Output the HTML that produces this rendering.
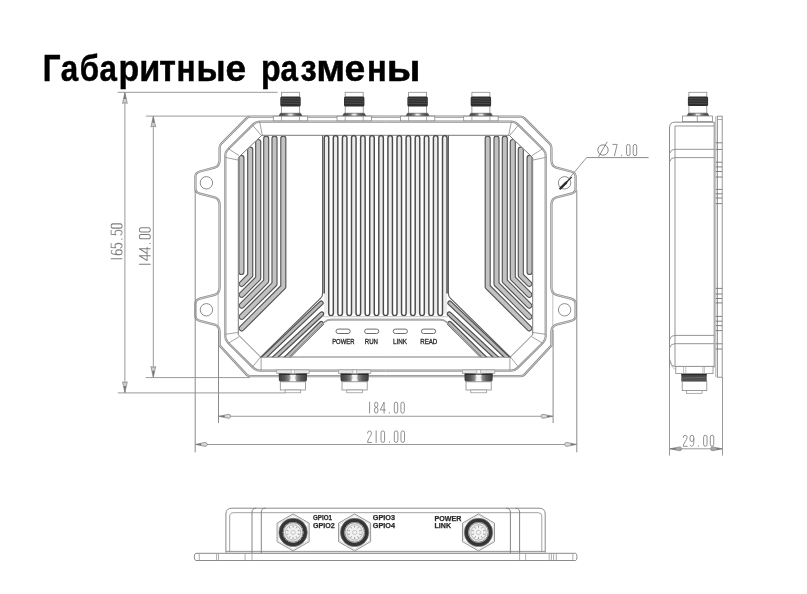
<!DOCTYPE html>
<html><head><meta charset="utf-8"><title>Габаритные размены</title>
<style>
html,body{margin:0;padding:0;background:#fff;}
body{width:807px;height:594px;overflow:hidden;position:relative;}
svg{position:absolute;left:0;top:0;will-change:transform;}
</style></head>
<body>
<svg width="807" height="594" viewBox="0 0 807 594">
<defs><linearGradient id="nutg" x1="0" y1="0" x2="1" y2="0"><stop offset="0" stop-color="#3c3c3c"/><stop offset="0.22" stop-color="#5a5a5a"/><stop offset="0.36" stop-color="#8a8a8a"/><stop offset="0.44" stop-color="#e8e8e8"/><stop offset="0.56" stop-color="#e8e8e8"/><stop offset="0.64" stop-color="#8a8a8a"/><stop offset="0.78" stop-color="#5a5a5a"/><stop offset="1" stop-color="#3c3c3c"/></linearGradient></defs>
<g font-family="Liberation Sans, sans-serif" font-weight="bold" font-size="36.5" fill="#000" stroke="#000" stroke-width="0.45">
<text transform="translate(42.66,81) scale(0.860,1)">Г</text>
<text transform="translate(60.86,81) scale(0.860,1)">а</text>
<text transform="translate(79.71,81) scale(0.860,1)">б</text>
<text transform="translate(99.56,81) scale(0.860,1)">а</text>
<text transform="translate(118.56,81) scale(0.930,1)">р</text>
<text transform="translate(139.33,81) scale(0.938,1)">и</text>
<text transform="translate(159.14,81) scale(0.929,1)">т</text>
<text transform="translate(176.39,81) scale(0.867,1)">н</text>
<text transform="translate(196.42,81) scale(0.932,1)">ы</text>
<text transform="translate(225.55,81) scale(1.016,1)">е</text>
<text transform="translate(261.08,81) scale(0.881,1)">р</text>
<text transform="translate(280.56,81) scale(0.860,1)">а</text>
<text transform="translate(300.45,81) scale(0.895,1)">з</text>
<text transform="translate(316.27,81) scale(1.073,1)">м</text>
<text transform="translate(344.44,81) scale(1.021,1)">е</text>
<text transform="translate(366.91,81) scale(0.897,1)">н</text>
<text transform="translate(386.84,81) scale(1.082,1)">ы</text>
</g>
<g id="fl">
<path d="M385.5,116.6 L251,116.6 Q248.2,116.6 246.4,118.4 L221.2,143.8 Q219.6,145.4 219.6,148 L219.6,160 Q219.6,166.2 214.6,167.6 L199.8,171.5 Q195.4,172.7 195.4,176.8 L195.4,188.6 Q195.4,192.6 199.8,193.7 L214.6,197.4 Q219.6,198.8 219.6,205 L219.6,287.2 Q219.6,293.4 214.6,294.8 L199.8,298.7 Q195.4,299.9 195.4,304 L195.4,315.8 Q195.4,319.8 199.8,320.9 L214.6,324.6 Q219.6,326 219.6,332.2 L219.6,345.6 L246.6,374.6 Q248.2,376.2 251,376.2 L385.5,376.2" fill="none" stroke="#8c8c8c" stroke-width="2.3"/>
<path d="M385.5,116.6 L251,116.6 Q248.2,116.6 246.4,118.4 L221.2,143.8 Q219.6,145.4 219.6,148 L219.6,160 Q219.6,166.2 214.6,167.6 L199.8,171.5 Q195.4,172.7 195.4,176.8 L195.4,188.6 Q195.4,192.6 199.8,193.7 L214.6,197.4 Q219.6,198.8 219.6,205 L219.6,287.2 Q219.6,293.4 214.6,294.8 L199.8,298.7 Q195.4,299.9 195.4,304 L195.4,315.8 Q195.4,319.8 199.8,320.9 L214.6,324.6 Q219.6,326 219.6,332.2 L219.6,345.6 L246.6,374.6 Q248.2,376.2 251,376.2 L385.5,376.2" fill="none" stroke="#e6e6e6" stroke-width="0.7"/>
<line x1="218.2" y1="290" x2="218.2" y2="329" stroke="#b0b0b0" stroke-width="0.8"/>
<circle cx="206.4" cy="182.8" r="6.2" fill="none" stroke="#8a8a8a" stroke-width="1"/>
<circle cx="206.4" cy="309.8" r="6.2" fill="none" stroke="#8a8a8a" stroke-width="1"/>
<path d="M385.5,121.6 L260,121.6 Q256,121.6 253.2,124.4 L228,149.2 Q225.3,151.9 225.3,155.5 L225.3,336.5 Q225.3,340 228,342.7 L253.4,367.9 Q256.2,370.7 260,370.7 L385.5,370.7" fill="none" stroke="#8e8e8e" stroke-width="2.2"/>
<path d="M385.5,121.6 L260,121.6 Q256,121.6 253.2,124.4 L228,149.2 Q225.3,151.9 225.3,155.5 L225.3,336.5 Q225.3,340 228,342.7 L253.4,367.9 Q256.2,370.7 260,370.7 L385.5,370.7" fill="none" stroke="#e8e8e8" stroke-width="0.6"/>
<path d="M385.5,135.3 L261.8,135.3 L238.3,157.6 L238.3,334.8 L260.6,357 L385.5,357" fill="none" stroke="#7a7a7a" stroke-width="1"/>
<line x1="259.6" y1="121.4" x2="262.3" y2="135.3" stroke="#8a8a8a" stroke-width="0.8"/>
<line x1="252.8" y1="125.4" x2="261.4" y2="135.6" stroke="#8a8a8a" stroke-width="0.8"/>
<line x1="228.2" y1="148.6" x2="239" y2="155.6" stroke="#8a8a8a" stroke-width="0.8"/>
<line x1="225.3" y1="157.4" x2="238.3" y2="160.1" stroke="#8a8a8a" stroke-width="0.8"/>
<line x1="225.3" y1="334.3" x2="238.3" y2="332.4" stroke="#8a8a8a" stroke-width="0.8"/>
<line x1="228.7" y1="343" x2="239.4" y2="336.6" stroke="#8a8a8a" stroke-width="0.8"/>
<line x1="252.8" y1="366.7" x2="260.4" y2="357.2" stroke="#8a8a8a" stroke-width="0.8"/>
<line x1="261.1" y1="357.4" x2="261.1" y2="370.4" stroke="#8a8a8a" stroke-width="0.8"/>
<clipPath id="clipL"><path d="M261.8,135.8 L238.8,157.6 L238.8,334.5 L262,357 L330,357 L330,135.8 Z"/></clipPath>
<g clip-path="url(#clipL)" fill="none" stroke-linejoin="round" stroke-linecap="round">
<path d="M241.4,157.96 L241.4,272" stroke="#555" stroke-width="6.2"/>
<path d="M241.4,157.96 L241.4,272" stroke="#c2c2c2" stroke-width="3.9"/>
<path d="M250.2,149.61 L250.2,275.4 L241.7,283.9" stroke="#555" stroke-width="6.2"/>
<path d="M250.2,149.61 L250.2,275.4 L241.7,283.9" stroke="#c2c2c2" stroke-width="3.9"/>
<path d="M258.2,142.02 L258.2,278.25 L241.7,294.75" stroke="#555" stroke-width="6.2"/>
<path d="M258.2,142.02 L258.2,278.25 L241.7,294.75" stroke="#c2c2c2" stroke-width="3.9"/>
<path d="M266.2,138.7 L266.2,281.1 L241.7,305.6" stroke="#555" stroke-width="6.2"/>
<path d="M266.2,138.7 L266.2,281.1 L241.7,305.6" stroke="#c2c2c2" stroke-width="3.9"/>
<path d="M274.5,138.7 L274.5,283.95 L241.7,316.75" stroke="#555" stroke-width="6.2"/>
<path d="M274.5,138.7 L274.5,283.95 L241.7,316.75" stroke="#c2c2c2" stroke-width="3.9"/>
<path d="M283.3,138.7 L283.3,286.8 L241.7,328.4" stroke="#555" stroke-width="6.2"/>
<path d="M283.3,138.7 L283.3,286.8 L241.7,328.4" stroke="#c2c2c2" stroke-width="3.9"/>
</g>
<clipPath id="clipLL"><path d="M238,357.3 L340,357.3 L340,280 L238,280 Z"/></clipPath>
<g fill="none" clip-path="url(#clipLL)" stroke-linecap="round">
<path d="M260.9,360.3 L321.2,303" stroke="#4e4e4e" stroke-width="5.0"/>
<path d="M260.9,360.3 L321.2,303" stroke="#bababa" stroke-width="2.6"/>
<path d="M271.9,360.3 L321.8,313.8" stroke="#4e4e4e" stroke-width="5.0"/>
<path d="M271.9,360.3 L321.8,313.8" stroke="#bababa" stroke-width="2.6"/>
<path d="M283.9,360.3 L321.4,323.4" stroke="#4e4e4e" stroke-width="5.0"/>
<path d="M283.9,360.3 L321.4,323.4" stroke="#bababa" stroke-width="2.6"/>
</g>
<path d="M322.6,135.5 L322.6,293.5 Q322.6,296.2 320.7,298.1 L260.4,357.3" fill="none" stroke="#5a5a5a" stroke-width="1.1"/>
<path d="M385.5,319.6 L331,319.6 Q327,319.6 324.6,322 L290.3,357.3" fill="none" stroke="#7a7a7a" stroke-width="1.6"/>
<path d="M385.5,319.6 L331,319.6 Q327,319.6 324.6,322 L290.3,357.3" fill="none" stroke="#eee" stroke-width="0.5"/>
</g>
<g transform="translate(771,0) scale(-1,1)">
<path d="M385.5,116.6 L251,116.6 Q248.2,116.6 246.4,118.4 L221.2,143.8 Q219.6,145.4 219.6,148 L219.6,160 Q219.6,166.2 214.6,167.6 L199.8,171.5 Q195.4,172.7 195.4,176.8 L195.4,188.6 Q195.4,192.6 199.8,193.7 L214.6,197.4 Q219.6,198.8 219.6,205 L219.6,287.2 Q219.6,293.4 214.6,294.8 L199.8,298.7 Q195.4,299.9 195.4,304 L195.4,315.8 Q195.4,319.8 199.8,320.9 L214.6,324.6 Q219.6,326 219.6,332.2 L219.6,345.6 L246.6,374.6 Q248.2,376.2 251,376.2 L385.5,376.2" fill="none" stroke="#8c8c8c" stroke-width="2.3"/>
<path d="M385.5,116.6 L251,116.6 Q248.2,116.6 246.4,118.4 L221.2,143.8 Q219.6,145.4 219.6,148 L219.6,160 Q219.6,166.2 214.6,167.6 L199.8,171.5 Q195.4,172.7 195.4,176.8 L195.4,188.6 Q195.4,192.6 199.8,193.7 L214.6,197.4 Q219.6,198.8 219.6,205 L219.6,287.2 Q219.6,293.4 214.6,294.8 L199.8,298.7 Q195.4,299.9 195.4,304 L195.4,315.8 Q195.4,319.8 199.8,320.9 L214.6,324.6 Q219.6,326 219.6,332.2 L219.6,345.6 L246.6,374.6 Q248.2,376.2 251,376.2 L385.5,376.2" fill="none" stroke="#e6e6e6" stroke-width="0.7"/>
<line x1="218.2" y1="290" x2="218.2" y2="329" stroke="#b0b0b0" stroke-width="0.8"/>
<circle cx="206.4" cy="182.8" r="6.2" fill="none" stroke="#8a8a8a" stroke-width="1"/>
<circle cx="206.4" cy="309.8" r="6.2" fill="none" stroke="#8a8a8a" stroke-width="1"/>
<path d="M385.5,121.6 L260,121.6 Q256,121.6 253.2,124.4 L228,149.2 Q225.3,151.9 225.3,155.5 L225.3,336.5 Q225.3,340 228,342.7 L253.4,367.9 Q256.2,370.7 260,370.7 L385.5,370.7" fill="none" stroke="#8e8e8e" stroke-width="2.2"/>
<path d="M385.5,121.6 L260,121.6 Q256,121.6 253.2,124.4 L228,149.2 Q225.3,151.9 225.3,155.5 L225.3,336.5 Q225.3,340 228,342.7 L253.4,367.9 Q256.2,370.7 260,370.7 L385.5,370.7" fill="none" stroke="#e8e8e8" stroke-width="0.6"/>
<path d="M385.5,135.3 L261.8,135.3 L238.3,157.6 L238.3,334.8 L260.6,357 L385.5,357" fill="none" stroke="#7a7a7a" stroke-width="1"/>
<line x1="259.6" y1="121.4" x2="262.3" y2="135.3" stroke="#8a8a8a" stroke-width="0.8"/>
<line x1="252.8" y1="125.4" x2="261.4" y2="135.6" stroke="#8a8a8a" stroke-width="0.8"/>
<line x1="228.2" y1="148.6" x2="239" y2="155.6" stroke="#8a8a8a" stroke-width="0.8"/>
<line x1="225.3" y1="157.4" x2="238.3" y2="160.1" stroke="#8a8a8a" stroke-width="0.8"/>
<line x1="225.3" y1="334.3" x2="238.3" y2="332.4" stroke="#8a8a8a" stroke-width="0.8"/>
<line x1="228.7" y1="343" x2="239.4" y2="336.6" stroke="#8a8a8a" stroke-width="0.8"/>
<line x1="252.8" y1="366.7" x2="260.4" y2="357.2" stroke="#8a8a8a" stroke-width="0.8"/>
<line x1="261.1" y1="357.4" x2="261.1" y2="370.4" stroke="#8a8a8a" stroke-width="0.8"/>
<clipPath id="clipR"><path d="M261.8,135.8 L238.8,157.6 L238.8,334.5 L262,357 L330,357 L330,135.8 Z"/></clipPath>
<g clip-path="url(#clipR)" fill="none" stroke-linejoin="round" stroke-linecap="round">
<path d="M241.4,157.96 L241.4,272" stroke="#555" stroke-width="6.2"/>
<path d="M241.4,157.96 L241.4,272" stroke="#c2c2c2" stroke-width="3.9"/>
<path d="M250.2,149.61 L250.2,275.4 L241.7,283.9" stroke="#555" stroke-width="6.2"/>
<path d="M250.2,149.61 L250.2,275.4 L241.7,283.9" stroke="#c2c2c2" stroke-width="3.9"/>
<path d="M258.2,142.02 L258.2,278.25 L241.7,294.75" stroke="#555" stroke-width="6.2"/>
<path d="M258.2,142.02 L258.2,278.25 L241.7,294.75" stroke="#c2c2c2" stroke-width="3.9"/>
<path d="M266.2,138.7 L266.2,281.1 L241.7,305.6" stroke="#555" stroke-width="6.2"/>
<path d="M266.2,138.7 L266.2,281.1 L241.7,305.6" stroke="#c2c2c2" stroke-width="3.9"/>
<path d="M274.5,138.7 L274.5,283.95 L241.7,316.75" stroke="#555" stroke-width="6.2"/>
<path d="M274.5,138.7 L274.5,283.95 L241.7,316.75" stroke="#c2c2c2" stroke-width="3.9"/>
<path d="M283.3,138.7 L283.3,286.8 L241.7,328.4" stroke="#555" stroke-width="6.2"/>
<path d="M283.3,138.7 L283.3,286.8 L241.7,328.4" stroke="#c2c2c2" stroke-width="3.9"/>
</g>
<clipPath id="clipRR"><path d="M238,357.3 L340,357.3 L340,280 L238,280 Z"/></clipPath>
<g fill="none" clip-path="url(#clipRR)" stroke-linecap="round">
<path d="M260.9,360.3 L321.2,303" stroke="#4e4e4e" stroke-width="5.0"/>
<path d="M260.9,360.3 L321.2,303" stroke="#bababa" stroke-width="2.6"/>
<path d="M271.9,360.3 L321.8,313.8" stroke="#4e4e4e" stroke-width="5.0"/>
<path d="M271.9,360.3 L321.8,313.8" stroke="#bababa" stroke-width="2.6"/>
<path d="M283.9,360.3 L321.4,323.4" stroke="#4e4e4e" stroke-width="5.0"/>
<path d="M283.9,360.3 L321.4,323.4" stroke="#bababa" stroke-width="2.6"/>
</g>
<path d="M322.6,135.5 L322.6,293.5 Q322.6,296.2 320.7,298.1 L260.4,357.3" fill="none" stroke="#5a5a5a" stroke-width="1.1"/>
<path d="M385.5,319.6 L331,319.6 Q327,319.6 324.6,322 L290.3,357.3" fill="none" stroke="#7a7a7a" stroke-width="1.6"/>
<path d="M385.5,319.6 L331,319.6 Q327,319.6 324.6,322 L290.3,357.3" fill="none" stroke="#eee" stroke-width="0.5"/>
</g>
<rect x="324.2" y="136.3" width="4.55" height="177.3" fill="#ececec"/>
<rect x="333.3" y="136.3" width="4.55" height="177.3" fill="#ececec"/>
<rect x="342.4" y="136.3" width="4.55" height="177.3" fill="#ececec"/>
<rect x="351.5" y="136.3" width="4.55" height="177.3" fill="#ececec"/>
<rect x="360.6" y="136.3" width="4.55" height="177.3" fill="#ececec"/>
<rect x="369.7" y="136.3" width="4.55" height="177.3" fill="#ececec"/>
<rect x="378.8" y="136.3" width="4.55" height="177.3" fill="#ececec"/>
<rect x="387.9" y="136.3" width="4.55" height="177.3" fill="#ececec"/>
<rect x="397" y="136.3" width="4.55" height="177.3" fill="#ececec"/>
<rect x="406.1" y="136.3" width="4.55" height="177.3" fill="#ececec"/>
<rect x="415.2" y="136.3" width="4.55" height="177.3" fill="#ececec"/>
<rect x="424.3" y="136.3" width="4.55" height="177.3" fill="#ececec"/>
<rect x="433.4" y="136.3" width="4.55" height="177.3" fill="#ececec"/>
<rect x="442.5" y="136.3" width="4.55" height="177.3" fill="#ececec"/>
<path d="M324.2,293.5 L324.2,137.88 A2.27,2.27 0 0 1 328.75,137.88 L328.75,313.33 A2.27,2.27 0 0 0 333.3,313.33 L333.3,137.88 A2.27,2.27 0 0 1 337.85,137.88 L337.85,313.33 A2.27,2.27 0 0 0 342.4,313.33 L342.4,137.88 A2.27,2.27 0 0 1 346.95,137.88 L346.95,313.33 A2.27,2.27 0 0 0 351.5,313.33 L351.5,137.88 A2.27,2.27 0 0 1 356.05,137.88 L356.05,313.33 A2.27,2.27 0 0 0 360.6,313.33 L360.6,137.88 A2.27,2.27 0 0 1 365.15,137.88 L365.15,313.33 A2.27,2.27 0 0 0 369.7,313.33 L369.7,137.88 A2.27,2.27 0 0 1 374.25,137.88 L374.25,313.33 A2.27,2.27 0 0 0 378.8,313.33 L378.8,137.88 A2.27,2.27 0 0 1 383.35,137.88 L383.35,313.33 A2.27,2.27 0 0 0 387.9,313.33 L387.9,137.88 A2.27,2.27 0 0 1 392.45,137.88 L392.45,313.33 A2.27,2.27 0 0 0 397,313.33 L397,137.88 A2.27,2.27 0 0 1 401.55,137.88 L401.55,313.33 A2.27,2.27 0 0 0 406.1,313.33 L406.1,137.88 A2.27,2.27 0 0 1 410.65,137.88 L410.65,313.33 A2.27,2.27 0 0 0 415.2,313.33 L415.2,137.88 A2.27,2.27 0 0 1 419.75,137.88 L419.75,313.33 A2.27,2.27 0 0 0 424.3,313.33 L424.3,137.88 A2.27,2.27 0 0 1 428.85,137.88 L428.85,313.33 A2.27,2.27 0 0 0 433.4,313.33 L433.4,137.88 A2.27,2.27 0 0 1 437.95,137.88 L437.95,313.33 A2.27,2.27 0 0 0 442.5,313.33 L442.5,137.88 A2.27,2.27 0 0 1 447.05,137.88 L447.05,293.5" fill="none" stroke="#4a4a4a" stroke-width="1.45"/>
<line x1="322.6" y1="316.7" x2="448.65" y2="316.7" stroke="#c8c8c8" stroke-width="1"/>
<rect x="336" y="329.1" width="14.2" height="4.4" rx="2.2" fill="none" stroke="#6a6a6a" stroke-width="1.0"/>
<rect x="364.6" y="329.1" width="14.2" height="4.4" rx="2.2" fill="none" stroke="#6a6a6a" stroke-width="1.0"/>
<rect x="393.2" y="329.1" width="14.2" height="4.4" rx="2.2" fill="none" stroke="#6a6a6a" stroke-width="1.0"/>
<rect x="421.4" y="329.1" width="14.2" height="4.4" rx="2.2" fill="none" stroke="#6a6a6a" stroke-width="1.0"/>
<g font-family="Liberation Sans, sans-serif" font-size="6.6" fill="#2a2a2a" stroke="#2a2a2a" stroke-width="0.3">
<text x="332.2" y="343.7" textLength="22.2" lengthAdjust="spacingAndGlyphs">POWER</text>
<text x="364.8" y="343.7" textLength="13.2" lengthAdjust="spacingAndGlyphs">RUN</text>
<text x="393" y="343.7" textLength="14" lengthAdjust="spacingAndGlyphs">LINK</text>
<text x="420.2" y="343.7" textLength="17.1" lengthAdjust="spacingAndGlyphs">READ</text>
</g>
<rect x="281.5" y="92.3" width="18" height="21.2" fill="#fff" stroke="#8a8a8a" stroke-width="0.8"/>
<rect x="280.3" y="96.6" width="20.4" height="10" rx="1.5" fill="#2e2e2e"/>
<line x1="280.9" y1="98.6" x2="300.1" y2="99.1" stroke="#6a6a6a" stroke-width="0.5"/>
<line x1="280.9" y1="100.9" x2="300.1" y2="101.4" stroke="#6a6a6a" stroke-width="0.5"/>
<line x1="280.9" y1="103.2" x2="300.1" y2="103.7" stroke="#6a6a6a" stroke-width="0.5"/>
<path d="M278.9,116 L280.3,113.2 L300.7,113.2 L302.1,116 Z" fill="url(#nutg)" stroke="#555" stroke-width="0.5"/>
<rect x="273.3" y="116.2" width="34.4" height="4.6" fill="#fff" stroke="#8a8a8a" stroke-width="0.8"/>
<line x1="281.5" y1="116.2" x2="281.5" y2="120.8" stroke="#8a8a8a" stroke-width="0.7"/>
<line x1="299.5" y1="116.2" x2="299.5" y2="120.8" stroke="#8a8a8a" stroke-width="0.7"/>
<rect x="345.2" y="92.3" width="18" height="21.2" fill="#fff" stroke="#8a8a8a" stroke-width="0.8"/>
<rect x="344" y="96.6" width="20.4" height="10" rx="1.5" fill="#2e2e2e"/>
<line x1="344.6" y1="98.6" x2="363.8" y2="99.1" stroke="#6a6a6a" stroke-width="0.5"/>
<line x1="344.6" y1="100.9" x2="363.8" y2="101.4" stroke="#6a6a6a" stroke-width="0.5"/>
<line x1="344.6" y1="103.2" x2="363.8" y2="103.7" stroke="#6a6a6a" stroke-width="0.5"/>
<path d="M342.6,116 L344,113.2 L364.4,113.2 L365.8,116 Z" fill="url(#nutg)" stroke="#555" stroke-width="0.5"/>
<rect x="337" y="116.2" width="34.4" height="4.6" fill="#fff" stroke="#8a8a8a" stroke-width="0.8"/>
<line x1="345.2" y1="116.2" x2="345.2" y2="120.8" stroke="#8a8a8a" stroke-width="0.7"/>
<line x1="363.2" y1="116.2" x2="363.2" y2="120.8" stroke="#8a8a8a" stroke-width="0.7"/>
<rect x="408.6" y="92.3" width="18" height="21.2" fill="#fff" stroke="#8a8a8a" stroke-width="0.8"/>
<rect x="407.4" y="96.6" width="20.4" height="10" rx="1.5" fill="#2e2e2e"/>
<line x1="408" y1="98.6" x2="427.2" y2="99.1" stroke="#6a6a6a" stroke-width="0.5"/>
<line x1="408" y1="100.9" x2="427.2" y2="101.4" stroke="#6a6a6a" stroke-width="0.5"/>
<line x1="408" y1="103.2" x2="427.2" y2="103.7" stroke="#6a6a6a" stroke-width="0.5"/>
<path d="M406,116 L407.4,113.2 L427.8,113.2 L429.2,116 Z" fill="url(#nutg)" stroke="#555" stroke-width="0.5"/>
<rect x="400.4" y="116.2" width="34.4" height="4.6" fill="#fff" stroke="#8a8a8a" stroke-width="0.8"/>
<line x1="408.6" y1="116.2" x2="408.6" y2="120.8" stroke="#8a8a8a" stroke-width="0.7"/>
<line x1="426.6" y1="116.2" x2="426.6" y2="120.8" stroke="#8a8a8a" stroke-width="0.7"/>
<rect x="471.9" y="92.3" width="18" height="21.2" fill="#fff" stroke="#8a8a8a" stroke-width="0.8"/>
<rect x="470.7" y="96.6" width="20.4" height="10" rx="1.5" fill="#2e2e2e"/>
<line x1="471.3" y1="98.6" x2="490.5" y2="99.1" stroke="#6a6a6a" stroke-width="0.5"/>
<line x1="471.3" y1="100.9" x2="490.5" y2="101.4" stroke="#6a6a6a" stroke-width="0.5"/>
<line x1="471.3" y1="103.2" x2="490.5" y2="103.7" stroke="#6a6a6a" stroke-width="0.5"/>
<path d="M469.3,116 L470.7,113.2 L491.1,113.2 L492.5,116 Z" fill="url(#nutg)" stroke="#555" stroke-width="0.5"/>
<rect x="463.7" y="116.2" width="34.4" height="4.6" fill="#fff" stroke="#8a8a8a" stroke-width="0.8"/>
<line x1="471.9" y1="116.2" x2="471.9" y2="120.8" stroke="#8a8a8a" stroke-width="0.7"/>
<line x1="489.9" y1="116.2" x2="489.9" y2="120.8" stroke="#8a8a8a" stroke-width="0.7"/>
<rect x="276.7" y="369.9" width="32.4" height="3.7" fill="#e6e6e6" stroke="#9a9a9a" stroke-width="0.7"/>
<rect x="291.2" y="369.9" width="3.4" height="3.7" fill="#fff" stroke="#9a9a9a" stroke-width="0.6"/>
<path d="M278.7,373.6 L307.1,373.6 L306.9,380 Q306.9,381.8 304.9,381.8 L280.9,381.8 Q278.9,381.8 278.9,380 Z" fill="url(#nutg)"/>
<path d="M279.3,374.3 L306.5,374.3" stroke="#222" stroke-width="1.1"/>
<path d="M289.9,374.8 L291.5,377.6 L289.7,381 L296.1,381 L294.3,377.6 L295.9,374.8 Z" fill="#f6f6f6"/>
<rect x="280.3" y="381.8" width="25.2" height="8.2" fill="#fff" stroke="#8a8a8a" stroke-width="0.8"/>
<rect x="285.1" y="390" width="15.6" height="2.8" fill="#fff" stroke="#8a8a8a" stroke-width="0.7"/>
<rect x="338.4" y="369.9" width="32.4" height="3.7" fill="#e6e6e6" stroke="#9a9a9a" stroke-width="0.7"/>
<rect x="352.9" y="369.9" width="3.4" height="3.7" fill="#fff" stroke="#9a9a9a" stroke-width="0.6"/>
<path d="M340.4,373.6 L368.8,373.6 L368.6,380 Q368.6,381.8 366.6,381.8 L342.6,381.8 Q340.6,381.8 340.6,380 Z" fill="url(#nutg)"/>
<path d="M341,374.3 L368.2,374.3" stroke="#222" stroke-width="1.1"/>
<path d="M351.6,374.8 L353.2,377.6 L351.4,381 L357.8,381 L356,377.6 L357.6,374.8 Z" fill="#f6f6f6"/>
<rect x="342" y="381.8" width="25.2" height="8.2" fill="#fff" stroke="#8a8a8a" stroke-width="0.8"/>
<rect x="346.8" y="390" width="15.6" height="2.8" fill="#fff" stroke="#8a8a8a" stroke-width="0.7"/>
<rect x="462.4" y="369.9" width="32.4" height="3.7" fill="#e6e6e6" stroke="#9a9a9a" stroke-width="0.7"/>
<rect x="476.9" y="369.9" width="3.4" height="3.7" fill="#fff" stroke="#9a9a9a" stroke-width="0.6"/>
<path d="M464.4,373.6 L492.8,373.6 L492.6,380 Q492.6,381.8 490.6,381.8 L466.6,381.8 Q464.6,381.8 464.6,380 Z" fill="url(#nutg)"/>
<path d="M465,374.3 L492.2,374.3" stroke="#222" stroke-width="1.1"/>
<path d="M475.6,374.8 L477.2,377.6 L475.4,381 L481.8,381 L480,377.6 L481.6,374.8 Z" fill="#f6f6f6"/>
<rect x="466" y="381.8" width="25.2" height="8.2" fill="#fff" stroke="#8a8a8a" stroke-width="0.8"/>
<rect x="470.8" y="390" width="15.6" height="2.8" fill="#fff" stroke="#8a8a8a" stroke-width="0.7"/>
<line x1="561.8" y1="187.2" x2="586.6" y2="157.6" stroke="#8a8a8a" stroke-width="0.9"/>
<line x1="586.6" y1="157.6" x2="648.6" y2="157.6" stroke="#8a8a8a" stroke-width="1"/>
<path d="M560.2,188.6 L571.4,177.4" stroke="#2a2a2a" stroke-width="1.3" stroke-linecap="round"/>
<path d="M560.4,188.4 L566.2,182.6" stroke="#2a2a2a" stroke-width="2.4" stroke-linecap="round"/>
<g fill="none" stroke="#7a7a7a" stroke-width="0.9"><ellipse cx="603" cy="150" rx="5.2" ry="5.2"/><path d="M598.6,156.8 L607.2,141.8"/></g>
<g transform="translate(615,144.4) scale(1.03)" fill="none" stroke="#7c7c7c" stroke-width="0.83" stroke-linecap="round" stroke-linejoin="round"><path transform="translate(0,0) scale(1,1)" d="M-2.1,0 L2.1,0 L-0.5,11"/><path transform="translate(6.45,0) scale(1,1)" d="M0,10.5 L0,11"/><path transform="translate(12.91,0) scale(1,1)" d="M-1.7,1.8 A1.7,1.8 0 0 1 1.7,1.8 L1.7,9.2 A1.7,1.8 0 0 1 -1.7,9.2 Z"/><path transform="translate(19.36,0) scale(1,1)" d="M-1.7,1.8 A1.7,1.8 0 0 1 1.7,1.8 L1.7,9.2 A1.7,1.8 0 0 1 -1.7,9.2 Z"/></g>
<line x1="117.6" y1="92.3" x2="277.6" y2="92.3" stroke="#9a9a9a" stroke-width="1"/>
<line x1="117.8" y1="392.9" x2="285" y2="392.9" stroke="#9a9a9a" stroke-width="1"/>
<line x1="124.9" y1="92.3" x2="124.9" y2="392.9" stroke="#9a9a9a" stroke-width="1"/>
<path d="M124.9,92.6 L122.5,103.4 L124.9,102.6 L127.3,103.4 Z" fill="#cfcfcf" stroke="#8a8a8a" stroke-width="0.8" stroke-linejoin="round"/>
<path d="M124.9,92.6 L123.82,99.08 L125.98,99.08 Z" fill="#707070" stroke="none"/>
<path d="M124.9,392.6 L127.3,381.8 L124.9,382.6 L122.5,381.8 Z" fill="#cfcfcf" stroke="#8a8a8a" stroke-width="0.8" stroke-linejoin="round"/>
<path d="M124.9,392.6 L125.98,386.12 L123.82,386.12 Z" fill="#707070" stroke="none"/>
<g transform="translate(111.1,258.8) rotate(-90) scale(1)" fill="none" stroke="#7c7c7c" stroke-width="0.85" stroke-linecap="round" stroke-linejoin="round"><path transform="translate(0,0) scale(1.25,1)" d="M0,0 L0,11"/><path transform="translate(6.56,0) scale(1.25,1)" d="M1.7,1 C1.4,0.3 0.8,0 0.1,0 C-1.3,0 -1.9,2.4 -1.9,6 L-1.9,8.4 A1.9,2.6 0 0 0 1.9,8.4 L1.9,7.3 A1.9,2.6 0 0 0 -1.9,7.3"/><path transform="translate(13.12,0) scale(1.25,1)" d="M1.8,0 L-1.4,0 L-1.7,4.7 C-1.1,4.1 -0.5,3.9 0,3.9 A1.85,3.55 0 0 1 0,11 C-0.9,11 -1.6,10.4 -1.9,9.4"/><path transform="translate(19.68,0) scale(1.25,1)" d="M0,10.5 L0,11"/><path transform="translate(26.24,0) scale(1.25,1)" d="M1.8,0 L-1.4,0 L-1.7,4.7 C-1.1,4.1 -0.5,3.9 0,3.9 A1.85,3.55 0 0 1 0,11 C-0.9,11 -1.6,10.4 -1.9,9.4"/><path transform="translate(32.8,0) scale(1.25,1)" d="M-1.7,1.8 A1.7,1.8 0 0 1 1.7,1.8 L1.7,9.2 A1.7,1.8 0 0 1 -1.7,9.2 Z"/></g>
<line x1="146" y1="116.1" x2="250" y2="116.1" stroke="#9a9a9a" stroke-width="1"/>
<line x1="145.7" y1="377.6" x2="250" y2="377.6" stroke="#9a9a9a" stroke-width="1"/>
<line x1="153.3" y1="116.1" x2="153.3" y2="377.6" stroke="#9a9a9a" stroke-width="1"/>
<path d="M153.3,116.4 L150.9,126.9 L153.3,126.1 L155.7,126.9 Z" fill="#cfcfcf" stroke="#8a8a8a" stroke-width="0.8" stroke-linejoin="round"/>
<path d="M153.3,116.4 L152.22,122.7 L154.38,122.7 Z" fill="#707070" stroke="none"/>
<path d="M153.3,377.3 L155.7,366.5 L153.3,367.3 L150.9,366.5 Z" fill="#cfcfcf" stroke="#8a8a8a" stroke-width="0.8" stroke-linejoin="round"/>
<path d="M153.3,377.3 L154.38,370.82 L152.22,370.82 Z" fill="#707070" stroke="none"/>
<g transform="translate(139.3,264.2) rotate(-90) scale(1)" fill="none" stroke="#7c7c7c" stroke-width="0.85" stroke-linecap="round" stroke-linejoin="round"><path transform="translate(0,0) scale(1.25,1)" d="M0,0 L0,11"/><path transform="translate(6.88,0) scale(1.25,1)" d="M1.3,11 L1.3,0 L-2.5,7.8 L2.6,7.8"/><path transform="translate(13.76,0) scale(1.25,1)" d="M1.3,11 L1.3,0 L-2.5,7.8 L2.6,7.8"/><path transform="translate(20.64,0) scale(1.25,1)" d="M0,10.5 L0,11"/><path transform="translate(27.52,0) scale(1.25,1)" d="M-1.7,1.8 A1.7,1.8 0 0 1 1.7,1.8 L1.7,9.2 A1.7,1.8 0 0 1 -1.7,9.2 Z"/><path transform="translate(34.4,0) scale(1.25,1)" d="M-1.7,1.8 A1.7,1.8 0 0 1 1.7,1.8 L1.7,9.2 A1.7,1.8 0 0 1 -1.7,9.2 Z"/></g>
<line x1="218.5" y1="416.3" x2="553" y2="416.3" stroke="#9a9a9a" stroke-width="1.1"/>
<path d="M218.8,416.3 L228.6,418.3 A2,2 0 0 0 228.6,414.3 Z" fill="#d8d8d8" stroke="#8a8a8a" stroke-width="0.8" stroke-linejoin="round"/>
<path d="M218.8,416.3 L224.68,417.2 L224.68,415.4 Z" fill="#707070" stroke="none"/>
<path d="M552.8,416.3 L543,414.3 A2,2 0 0 0 543,418.3 Z" fill="#d8d8d8" stroke="#8a8a8a" stroke-width="0.8" stroke-linejoin="round"/>
<path d="M552.8,416.3 L546.92,415.4 L546.92,417.2 Z" fill="#707070" stroke="none"/>
<g transform="translate(369.6,402.1) scale(1)" fill="none" stroke="#7c7c7c" stroke-width="0.85" stroke-linecap="round" stroke-linejoin="round"><path transform="translate(0,0) scale(1,1)" d="M0,0 L0,11"/><path transform="translate(6.6,0) scale(1,1)" d="M0,5.3 A1.65,2.65 0 1 1 0,0 A1.65,2.65 0 1 1 0,5.3 A1.85,2.85 0 1 1 0,11 A1.85,2.85 0 1 1 0,5.3 Z"/><path transform="translate(13.2,0) scale(1,1)" d="M1.3,11 L1.3,0 L-2.5,7.8 L2.6,7.8"/><path transform="translate(19.8,0) scale(1,1)" d="M0,10.5 L0,11"/><path transform="translate(26.4,0) scale(1,1)" d="M-1.7,1.8 A1.7,1.8 0 0 1 1.7,1.8 L1.7,9.2 A1.7,1.8 0 0 1 -1.7,9.2 Z"/><path transform="translate(33,0) scale(1,1)" d="M-1.7,1.8 A1.7,1.8 0 0 1 1.7,1.8 L1.7,9.2 A1.7,1.8 0 0 1 -1.7,9.2 Z"/></g>
<line x1="195.1" y1="444.5" x2="576.8" y2="444.5" stroke="#9a9a9a" stroke-width="1.1"/>
<path d="M195.4,444.4 L205.2,446.4 A2,2 0 0 0 205.2,442.4 Z" fill="#d8d8d8" stroke="#8a8a8a" stroke-width="0.8" stroke-linejoin="round"/>
<path d="M195.4,444.4 L201.28,445.3 L201.28,443.5 Z" fill="#707070" stroke="none"/>
<path d="M576.5,444.4 L566.7,442.4 A2,2 0 0 0 566.7,446.4 Z" fill="#d8d8d8" stroke="#8a8a8a" stroke-width="0.8" stroke-linejoin="round"/>
<path d="M576.5,444.4 L570.62,443.5 L570.62,445.3 Z" fill="#707070" stroke="none"/>
<g transform="translate(369.5,430.9) scale(1.05)" fill="none" stroke="#7c7c7c" stroke-width="0.81" stroke-linecap="round" stroke-linejoin="round"><path transform="translate(0,0) scale(1,1)" d="M-1.9,2.2 A1.9,2.1 0 0 1 1.9,2.1 C1.9,4.6 -1.9,8 -1.9,11 L2.0,11"/><path transform="translate(6.33,0) scale(1,1)" d="M0,0 L0,11"/><path transform="translate(12.66,0) scale(1,1)" d="M-1.7,1.8 A1.7,1.8 0 0 1 1.7,1.8 L1.7,9.2 A1.7,1.8 0 0 1 -1.7,9.2 Z"/><path transform="translate(19,0) scale(1,1)" d="M0,10.5 L0,11"/><path transform="translate(25.33,0) scale(1,1)" d="M-1.7,1.8 A1.7,1.8 0 0 1 1.7,1.8 L1.7,9.2 A1.7,1.8 0 0 1 -1.7,9.2 Z"/><path transform="translate(31.66,0) scale(1,1)" d="M-1.7,1.8 A1.7,1.8 0 0 1 1.7,1.8 L1.7,9.2 A1.7,1.8 0 0 1 -1.7,9.2 Z"/></g>
<line x1="195.2" y1="190" x2="195.2" y2="452.3" stroke="#8a8a8a" stroke-width="1"/>
<line x1="218.5" y1="330" x2="218.5" y2="423" stroke="#8a8a8a" stroke-width="1"/>
<line x1="576.8" y1="190" x2="576.8" y2="452.3" stroke="#8a8a8a" stroke-width="1"/>
<line x1="553.1" y1="330" x2="553.1" y2="423" stroke="#8a8a8a" stroke-width="1"/>
<line x1="669.5" y1="366" x2="669.5" y2="455.6" stroke="#9a9a9a" stroke-width="1"/>
<line x1="722.5" y1="377" x2="722.5" y2="455.6" stroke="#9a9a9a" stroke-width="1"/>
<line x1="669.5" y1="448.8" x2="722.5" y2="448.8" stroke="#9a9a9a" stroke-width="1"/>
<path d="M669.9,448.8 L679.7,450.7 A1.9,1.9 0 0 0 679.7,446.9 Z" fill="#a8a8a8" stroke="#8a8a8a" stroke-width="0.8" stroke-linejoin="round"/>
<path d="M669.9,448.8 L675.78,449.66 L675.78,447.94 Z" fill="#707070" stroke="none"/>
<path d="M722.3,448.8 L712.5,446.9 A1.9,1.9 0 0 0 712.5,450.7 Z" fill="#a8a8a8" stroke="#8a8a8a" stroke-width="0.8" stroke-linejoin="round"/>
<path d="M722.3,448.8 L716.42,447.94 L716.42,449.66 Z" fill="#707070" stroke="none"/>
<g transform="translate(685.2,435.2) scale(1.01)" fill="none" stroke="#7c7c7c" stroke-width="0.84" stroke-linecap="round" stroke-linejoin="round"><path transform="translate(0,0) scale(1,1)" d="M-1.9,2.2 A1.9,2.1 0 0 1 1.9,2.1 C1.9,4.6 -1.9,8 -1.9,11 L2.0,11"/><path transform="translate(6.64,0) scale(1,1)" d="M-1.7,10 C-1.4,10.7 -0.8,11 -0.1,11 C1.3,11 1.9,8.6 1.9,5 L1.9,2.6 A1.9,2.6 0 0 0 -1.9,2.6 L-1.9,3.7 A1.9,2.6 0 0 0 1.9,3.7"/><path transform="translate(13.28,0) scale(1,1)" d="M0,10.5 L0,11"/><path transform="translate(19.92,0) scale(1,1)" d="M-1.7,1.8 A1.7,1.8 0 0 1 1.7,1.8 L1.7,9.2 A1.7,1.8 0 0 1 -1.7,9.2 Z"/><path transform="translate(26.56,0) scale(1,1)" d="M-1.7,1.8 A1.7,1.8 0 0 1 1.7,1.8 L1.7,9.2 A1.7,1.8 0 0 1 -1.7,9.2 Z"/></g>
<rect x="688.9" y="92.3" width="17.9" height="21" fill="#fff" stroke="#8a8a8a" stroke-width="0.8"/>
<rect x="687.9" y="96.6" width="20.2" height="9.4" rx="1.5" fill="#2e2e2e"/>
<line x1="688.4" y1="98.6" x2="707.6" y2="99.1" stroke="#6a6a6a" stroke-width="0.5"/>
<line x1="688.4" y1="100.9" x2="707.6" y2="101.4" stroke="#6a6a6a" stroke-width="0.5"/>
<line x1="688.4" y1="103.2" x2="707.6" y2="103.7" stroke="#6a6a6a" stroke-width="0.5"/>
<path d="M686.8,116 L688.5,113.2 L707.6,113.2 L709,116 Z" fill="url(#nutg)" stroke="#555" stroke-width="0.5"/>
<rect x="682.6" y="116" width="29.9" height="5.6" fill="#fff" stroke="#8a8a8a" stroke-width="0.8"/>
<line x1="697.3" y1="116" x2="697.3" y2="121.6" stroke="#8a8a8a" stroke-width="0.8"/>
<path d="M674.6,122.2 L714.4,122.2 M674.6,122.2 Q669.5,122.2 669.5,128 L669.5,368" fill="none" stroke="#8a8a8a" stroke-width="1"/>
<path d="M669.8,359.5 Q670.6,366.4 675.2,366.4 L714.2,366.4" fill="none" stroke="#8a8a8a" stroke-width="1"/>
<path d="M670.6,361 Q671.5,369.2 676.2,369.2" fill="none" stroke="#aaa" stroke-width="0.7"/>
<line x1="675" y1="126" x2="675" y2="366.4" stroke="#8a8a8a" stroke-width="0.9"/>
<line x1="675" y1="126" x2="714.4" y2="126" stroke="#8a8a8a" stroke-width="0.9"/>
<line x1="714.2" y1="122" x2="714.2" y2="367.5" stroke="#8a8a8a" stroke-width="1"/>
<line x1="715.8" y1="116" x2="715.8" y2="377.3" stroke="#999" stroke-width="0.8"/>
<rect x="717.4" y="116.2" width="4.8" height="261" fill="none" stroke="#8a8a8a" stroke-width="0.9"/>
<line x1="717.6" y1="119.5" x2="722.2" y2="119.5" stroke="#8a8a8a" stroke-width="0.7"/>
<line x1="715.8" y1="142.8" x2="722.2" y2="142.8" stroke="#666" stroke-width="0.8"/>
<line x1="715.8" y1="149.4" x2="722.2" y2="149.4" stroke="#666" stroke-width="0.8"/>
<line x1="715.8" y1="162.2" x2="722.2" y2="162.2" stroke="#666" stroke-width="0.8"/>
<line x1="715.8" y1="166.9" x2="722.2" y2="166.9" stroke="#666" stroke-width="0.8"/>
<line x1="715.8" y1="171.5" x2="722.2" y2="171.5" stroke="#666" stroke-width="0.8"/>
<line x1="715.8" y1="177" x2="722.2" y2="177" stroke="#666" stroke-width="0.8"/>
<line x1="715.8" y1="189.4" x2="722.2" y2="189.4" stroke="#666" stroke-width="0.8"/>
<line x1="715.8" y1="193.8" x2="722.2" y2="193.8" stroke="#666" stroke-width="0.8"/>
<line x1="715.8" y1="198" x2="722.2" y2="198" stroke="#666" stroke-width="0.8"/>
<line x1="715.8" y1="203.6" x2="722.2" y2="203.6" stroke="#666" stroke-width="0.8"/>
<line x1="715.8" y1="288.4" x2="722.2" y2="288.4" stroke="#666" stroke-width="0.8"/>
<line x1="715.8" y1="294" x2="722.2" y2="294" stroke="#666" stroke-width="0.8"/>
<line x1="715.8" y1="298.5" x2="722.2" y2="298.5" stroke="#666" stroke-width="0.8"/>
<line x1="715.8" y1="302.9" x2="722.2" y2="302.9" stroke="#666" stroke-width="0.8"/>
<line x1="715.8" y1="316.4" x2="722.2" y2="316.4" stroke="#666" stroke-width="0.8"/>
<line x1="715.8" y1="321.2" x2="722.2" y2="321.2" stroke="#666" stroke-width="0.8"/>
<line x1="715.8" y1="325.6" x2="722.2" y2="325.6" stroke="#666" stroke-width="0.8"/>
<line x1="715.8" y1="330.6" x2="722.2" y2="330.6" stroke="#666" stroke-width="0.8"/>
<line x1="715.8" y1="343.8" x2="722.2" y2="343.8" stroke="#666" stroke-width="0.8"/>
<line x1="715.8" y1="349" x2="722.2" y2="349" stroke="#666" stroke-width="0.8"/>
<path d="M669.8,153.3 Q670.5,149.3 675,149.3 L714.2,149.3" fill="none" stroke="#8a8a8a" stroke-width="0.9"/>
<path d="M669.8,161.6 Q670.5,157.6 675,157.6 L714.2,157.6" fill="none" stroke="#8a8a8a" stroke-width="0.9"/>
<path d="M669.8,339.4 Q670.5,335.4 675,335.4 L714.2,335.4" fill="none" stroke="#8a8a8a" stroke-width="0.9"/>
<path d="M669.8,347.7 Q670.5,343.7 675,343.7 L714.2,343.7" fill="none" stroke="#8a8a8a" stroke-width="0.9"/>
<rect x="675.8" y="366.4" width="37.2" height="7.2" fill="#fff" stroke="#8a8a8a" stroke-width="0.8"/>
<line x1="683.6" y1="366.4" x2="683.6" y2="373.6" stroke="#999" stroke-width="0.6"/>
<line x1="685.8" y1="366.4" x2="685.8" y2="373.6" stroke="#999" stroke-width="0.6"/>
<line x1="702.9" y1="366.4" x2="702.9" y2="373.6" stroke="#999" stroke-width="0.6"/>
<line x1="704.4" y1="366.4" x2="704.4" y2="373.6" stroke="#999" stroke-width="0.6"/>
<rect x="681.3" y="373.9" width="25.4" height="7.6" fill="#4a4a4a"/>
<line x1="681.3" y1="374.6" x2="706.7" y2="374.6" stroke="#2a2a2a" stroke-width="1.2"/>
<line x1="682" y1="378.2" x2="706" y2="377.4" stroke="#777" stroke-width="0.7"/>
<line x1="682" y1="380.2" x2="706" y2="379.6" stroke="#666" stroke-width="0.5"/>
<rect x="682.2" y="381.5" width="24.6" height="9.1" fill="#fff" stroke="#8a8a8a" stroke-width="0.8"/>
<rect x="686.6" y="390.6" width="15.5" height="2.7" fill="#fff" stroke="#8a8a8a" stroke-width="0.7"/>
<path d="M225.9,552.6 L225.9,514 Q225.9,508.2 232,508.2 L539.2,508.2 Q545.2,508.2 545.2,514 L545.2,552.6" fill="none" stroke="#8a8a8a" stroke-width="1"/>
<path d="M229.7,552 L229.7,516 Q229.7,512.7 234,512.7 L538,512.7 Q541.8,512.7 541.8,516 L541.8,552" fill="none" stroke="#999" stroke-width="0.9"/>
<line x1="225.9" y1="551.4" x2="545.2" y2="551.4" stroke="#8a8a8a" stroke-width="0.9"/>
<line x1="225.9" y1="553.3" x2="545.2" y2="553.3" stroke="#8a8a8a" stroke-width="0.9"/>
<path d="M252,553.3 L252,512.4 Q252,508.2 256.2,508.2" fill="none" stroke="#777" stroke-width="0.9"/>
<path d="M261.3,553.3 L261.3,512.4 Q261.3,508.2 265.5,508.2" fill="none" stroke="#777" stroke-width="0.9"/>
<path d="M510.4,553.3 L510.4,512.4 Q510.4,508.2 506.2,508.2" fill="none" stroke="#777" stroke-width="0.9"/>
<path d="M519.6,553.3 L519.6,512.4 Q519.6,508.2 515.4,508.2" fill="none" stroke="#777" stroke-width="0.9"/>
<path d="M196,553.3 L575.6,553.3 Q577,553.3 577,556.8 Q577,560.5 575.6,560.5 L196,560.5 Q194.3,560.5 194.3,556.8 Q194.3,553.3 196,553.3 Z" fill="#fff" stroke="#8a8a8a" stroke-width="1"/>
<line x1="199.3" y1="553.3" x2="199.3" y2="560.5" stroke="#999" stroke-width="0.8"/>
<line x1="216.6" y1="553.3" x2="216.6" y2="560.5" stroke="#999" stroke-width="0.8"/>
<line x1="218.5" y1="553.3" x2="218.5" y2="560.5" stroke="#999" stroke-width="0.8"/>
<line x1="245.1" y1="553.3" x2="245.1" y2="560.5" stroke="#999" stroke-width="0.8"/>
<line x1="252" y1="553.3" x2="252" y2="560.5" stroke="#999" stroke-width="0.8"/>
<line x1="519.6" y1="553.3" x2="519.6" y2="560.5" stroke="#999" stroke-width="0.8"/>
<line x1="525.7" y1="553.3" x2="525.7" y2="560.5" stroke="#999" stroke-width="0.8"/>
<line x1="549.2" y1="553.3" x2="549.2" y2="560.5" stroke="#999" stroke-width="0.8"/>
<line x1="551.4" y1="553.3" x2="551.4" y2="560.5" stroke="#999" stroke-width="0.8"/>
<line x1="553.6" y1="553.3" x2="553.6" y2="560.5" stroke="#999" stroke-width="0.8"/>
<line x1="556.3" y1="553.3" x2="556.3" y2="560.5" stroke="#999" stroke-width="0.8"/>
<line x1="572.8" y1="553.3" x2="572.8" y2="560.5" stroke="#999" stroke-width="0.8"/>
<polygon points="293.1 513.9 309.12 523.15 309.12 541.65 293.1 550.9 277.08 541.65 277.08 523.15" fill="#fff" stroke="#8a8a8a" stroke-width="0.9"/>
<polygon points="293.1 515.3 307.91 523.85 307.91 540.95 293.1 549.5 278.29 540.95 278.29 523.85" fill="none" stroke="#c8c8c8" stroke-width="0.6"/>
<circle cx="293.1" cy="532.4" r="12.3" fill="none" stroke="#353535" stroke-width="3.8"/>
<circle cx="293.1" cy="532.4" r="14.2" fill="none" stroke="#777" stroke-width="0.6"/>
<circle cx="293.1" cy="532.4" r="9.9" fill="#e6e6e6" stroke="#6a6a6a" stroke-width="0.9"/>
<circle cx="293.1" cy="532.4" r="7.6" fill="#f2f2f2" stroke="#9a9a9a" stroke-width="0.6"/>
<line x1="297.67" y1="533.88" x2="299.38" y2="534.44" stroke="#8a8a8a" stroke-width="0.9"/>
<line x1="295.92" y1="536.28" x2="296.98" y2="537.74" stroke="#8a8a8a" stroke-width="0.9"/>
<line x1="293.1" y1="537.2" x2="293.1" y2="539" stroke="#8a8a8a" stroke-width="0.9"/>
<line x1="290.28" y1="536.28" x2="289.22" y2="537.74" stroke="#8a8a8a" stroke-width="0.9"/>
<line x1="288.53" y1="533.88" x2="286.82" y2="534.44" stroke="#8a8a8a" stroke-width="0.9"/>
<line x1="288.53" y1="530.92" x2="286.82" y2="530.36" stroke="#8a8a8a" stroke-width="0.9"/>
<line x1="290.28" y1="528.52" x2="289.22" y2="527.06" stroke="#8a8a8a" stroke-width="0.9"/>
<line x1="293.1" y1="527.6" x2="293.1" y2="525.8" stroke="#8a8a8a" stroke-width="0.9"/>
<line x1="295.92" y1="528.52" x2="296.98" y2="527.06" stroke="#8a8a8a" stroke-width="0.9"/>
<line x1="297.67" y1="530.92" x2="299.38" y2="530.36" stroke="#8a8a8a" stroke-width="0.9"/>
<circle cx="293.1" cy="532.4" r="2.2" fill="none" stroke="#aaa" stroke-width="0.6"/>
<polygon points="354.6 513.9 370.62 523.15 370.62 541.65 354.6 550.9 338.58 541.65 338.58 523.15" fill="#fff" stroke="#8a8a8a" stroke-width="0.9"/>
<polygon points="354.6 515.3 369.41 523.85 369.41 540.95 354.6 549.5 339.79 540.95 339.79 523.85" fill="none" stroke="#c8c8c8" stroke-width="0.6"/>
<circle cx="354.6" cy="532.4" r="12.3" fill="none" stroke="#353535" stroke-width="3.8"/>
<circle cx="354.6" cy="532.4" r="14.2" fill="none" stroke="#777" stroke-width="0.6"/>
<circle cx="354.6" cy="532.4" r="9.9" fill="#e6e6e6" stroke="#6a6a6a" stroke-width="0.9"/>
<circle cx="354.6" cy="532.4" r="7.6" fill="#f2f2f2" stroke="#9a9a9a" stroke-width="0.6"/>
<line x1="359.17" y1="533.88" x2="360.88" y2="534.44" stroke="#8a8a8a" stroke-width="0.9"/>
<line x1="357.42" y1="536.28" x2="358.48" y2="537.74" stroke="#8a8a8a" stroke-width="0.9"/>
<line x1="354.6" y1="537.2" x2="354.6" y2="539" stroke="#8a8a8a" stroke-width="0.9"/>
<line x1="351.78" y1="536.28" x2="350.72" y2="537.74" stroke="#8a8a8a" stroke-width="0.9"/>
<line x1="350.03" y1="533.88" x2="348.32" y2="534.44" stroke="#8a8a8a" stroke-width="0.9"/>
<line x1="350.03" y1="530.92" x2="348.32" y2="530.36" stroke="#8a8a8a" stroke-width="0.9"/>
<line x1="351.78" y1="528.52" x2="350.72" y2="527.06" stroke="#8a8a8a" stroke-width="0.9"/>
<line x1="354.6" y1="527.6" x2="354.6" y2="525.8" stroke="#8a8a8a" stroke-width="0.9"/>
<line x1="357.42" y1="528.52" x2="358.48" y2="527.06" stroke="#8a8a8a" stroke-width="0.9"/>
<line x1="359.17" y1="530.92" x2="360.88" y2="530.36" stroke="#8a8a8a" stroke-width="0.9"/>
<circle cx="354.6" cy="532.4" r="2.2" fill="none" stroke="#aaa" stroke-width="0.6"/>
<polygon points="478.5 513.9 494.52 523.15 494.52 541.65 478.5 550.9 462.48 541.65 462.48 523.15" fill="#fff" stroke="#8a8a8a" stroke-width="0.9"/>
<polygon points="478.5 515.3 493.31 523.85 493.31 540.95 478.5 549.5 463.69 540.95 463.69 523.85" fill="none" stroke="#c8c8c8" stroke-width="0.6"/>
<circle cx="478.5" cy="532.4" r="12.3" fill="none" stroke="#353535" stroke-width="3.8"/>
<circle cx="478.5" cy="532.4" r="14.2" fill="none" stroke="#777" stroke-width="0.6"/>
<circle cx="478.5" cy="532.4" r="9.9" fill="#e6e6e6" stroke="#6a6a6a" stroke-width="0.9"/>
<circle cx="478.5" cy="532.4" r="7.6" fill="#f2f2f2" stroke="#9a9a9a" stroke-width="0.6"/>
<line x1="483.07" y1="533.88" x2="484.78" y2="534.44" stroke="#8a8a8a" stroke-width="0.9"/>
<line x1="481.32" y1="536.28" x2="482.38" y2="537.74" stroke="#8a8a8a" stroke-width="0.9"/>
<line x1="478.5" y1="537.2" x2="478.5" y2="539" stroke="#8a8a8a" stroke-width="0.9"/>
<line x1="475.68" y1="536.28" x2="474.62" y2="537.74" stroke="#8a8a8a" stroke-width="0.9"/>
<line x1="473.93" y1="533.88" x2="472.22" y2="534.44" stroke="#8a8a8a" stroke-width="0.9"/>
<line x1="473.93" y1="530.92" x2="472.22" y2="530.36" stroke="#8a8a8a" stroke-width="0.9"/>
<line x1="475.68" y1="528.52" x2="474.62" y2="527.06" stroke="#8a8a8a" stroke-width="0.9"/>
<line x1="478.5" y1="527.6" x2="478.5" y2="525.8" stroke="#8a8a8a" stroke-width="0.9"/>
<line x1="481.32" y1="528.52" x2="482.38" y2="527.06" stroke="#8a8a8a" stroke-width="0.9"/>
<line x1="483.07" y1="530.92" x2="484.78" y2="530.36" stroke="#8a8a8a" stroke-width="0.9"/>
<circle cx="478.5" cy="532.4" r="2.2" fill="none" stroke="#aaa" stroke-width="0.6"/>
<g font-family="Liberation Sans, sans-serif" font-weight="bold" font-size="7" fill="#2a2a2a" stroke="#2a2a2a" stroke-width="0.25">
<text x="313" y="520.3" textLength="19" lengthAdjust="spacingAndGlyphs">GPIO1</text>
<text x="313" y="527.9" textLength="21.6" lengthAdjust="spacingAndGlyphs">GPIO2</text>
<text x="372.8" y="520.3" textLength="22.2" lengthAdjust="spacingAndGlyphs">GPIO3</text>
<text x="372.8" y="527.9" textLength="22.2" lengthAdjust="spacingAndGlyphs">GPIO4</text>
<text x="434.5" y="520.7" textLength="26.8" lengthAdjust="spacingAndGlyphs">POWER</text>
<text x="434.5" y="527.9" textLength="16.5" lengthAdjust="spacingAndGlyphs">LINK</text>
</g>
</svg>
</body></html>
